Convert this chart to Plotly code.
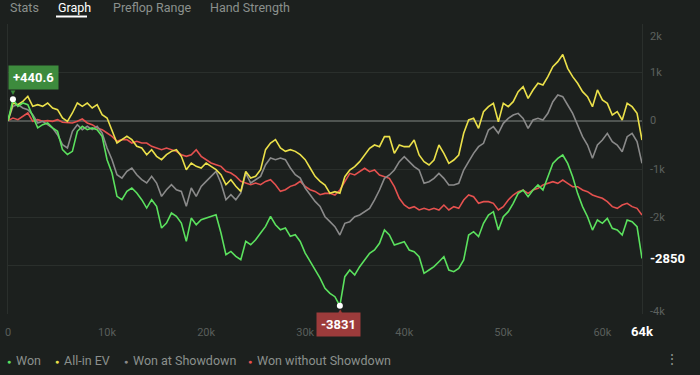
import plotly.graph_objects as go

# ---------------- data ----------------
STEP = 500  # hands between samples
won = [0, 440.6, 297, 366, 331, 100, -150, -83, -48, -150, -220, -600, -700, -635, -220, -117, -186, -150, -186, -324,
       -807, -1083, -1566, -1635, -1463, -1393, -1497, -1635, -1808, -1635, -1773, -2222, -2118,
       -1911, -1980, -2118, -2498, -2015, -2153, -2049, -2015, -1980, -1946, -2325, -2774, -2705, -2808, -2877,
       -2498, -2567, -2463, -2325, -2187, -1980, -2153, -2256, -2222, -2394, -2360, -2498, -2739, -2912, -3084, -3257,
       -3469, -3573, -3642, -3831, -3228, -3090, -3193, -3021, -2883, -2745, -2676, -2538, -2263, -2366, -2573,
       -2538, -2504, -2676, -2711, -2814, -3159, -3090, -3021, -2918, -2814, -3090, -3124, -3056, -2883, -2366,
       -2297, -2400, -2124,
       -1952, -1883, -2263, -1987, -1883, -1710, -1504, -1435, -1573, -1435, -1331, -1435, -1159, -883, -779,
       -710, -883, -1159, -1504, -1779, -1987, -2263, -2055, -2124, -2021, -2228, -2263, -2366, -2055, -2090,
       -2193, -2850]
allin_ev = [0, 366, 331, 400, 504, 297, 331, 297, 366, 262, 228, 55, -14, 159, 366, 297, 366, 262, 331, 124,
            55, -221, -462, -393, -324, -393, -531, -566, -704, -600, -738, -807, -704,
            -635, -600, -738, -1014, -876, -945, -980, -876, -945, -1014, -1118, -1325, -1221, -1359, -1463,
            -1049, -1187, -1152, -1014, -600, -462, -393, -566, -635, -600, -635, -704, -807, -980, -1152, -1256,
            -1331, -1504, -1469, -1500, -1159, -1021, -952, -848, -710, -572, -503, -538, -331, -331, -676,
            -503, -538, -538, -400, -710, -848, -917, -814, -503, -676, -883, -814, -710, -262, 14, 48, -159, 186,
            290, 359, -21, 359, 290, 393, 600, 704, 462, 635, 773, 738, 911, 1118, 1221,
            1370, 1083, 911, 773, 600, 497, 290, 635, 428, 359, 117, 186, 14, 359, 290, 152, -400]
showdown = [0, 297, 331, 262, 228, 124, -48, -14, -83, -152, -290, -497, -566, -221, -83, -186, -117, -186, -117, -255,
            -566, -807, -1118, -1187, -1049, -980, -1118, -1221, -1290, -1152, -1290, -1566, -1428,
            -1325, -1428, -1463, -1773, -1393, -1566, -1359, -1256, -1152, -1049, -1290, -1635, -1532, -1635, -1497,
            -1083, -1290, -1221, -1152, -911, -773, -807, -773, -807, -980, -1118, -1187, -1393, -1532, -1670, -1773,
            -1987, -2090, -2193, -2366, -2124, -2090, -1987, -1952, -1883, -1814, -1641, -1435, -1193, -1124, -1021,
            -848, -745, -848, -952, -1021, -1297, -1262, -1193, -1090, -1193, -1331, -1331, -1297, -1021, -848,
            -676, -538, -469,
            -193, -124, -262, -55, 48, 117, 152, 48, -159, 14, 48, 14, 152, 393, 531,
            497, 324, 152, -90, -331, -503, -779, -503, -400, -262, -434, -503, -641, -331, -262, -434, -883]
no_showdown = [0, 55, 21, 90, 159, -14, 21, -14, 0, -14, 21, -34, -48, -48, -14, 34, -48, -83, -152, -186,
               -255, -324, -428, -393, -393, -462, -428, -462, -462, -531, -566, -600, -566,
               -600, -635, -704, -738, -704, -600, -738, -807, -876, -911, -945, -1049, -1083, -1152, -1256,
               -1290, -1325, -1290, -1325, -1256, -1221, -1325, -1463, -1428, -1359, -1325, -1256, -1359, -1428,
               -1463, -1532,
               -1504, -1504, -1538, -1435, -1262, -1090, -1124, -1055, -986, -1055, -1021, -1124, -1159, -1193,
               -1366, -1607, -1745, -1814, -1779, -1848, -1814, -1848, -1814, -1848, -1745, -1848, -1779, -1814,
               -1641, -1538, -1573, -1710, -1676,
               -1676, -1710, -1848, -1779, -1641, -1538, -1469, -1435, -1504, -1435, -1400, -1331, -1297, -1262,
               -1297, -1228, -1297, -1366, -1366, -1435, -1469, -1538, -1573, -1607, -1676, -1779, -1814, -1745,
               -1710, -1779, -1814, -1952]
hands = [i * STEP for i in range(len(won))]

series_names = ["Won", "All-in EV", "Won at Showdown", "Won without Showdown"]
x_tickvals = [0, 10000, 20000, 30000, 40000, 50000, 60000, 64000]
x_ticktext = ["0", "10k", "20k", "30k", "40k", "50k", "60k",
              "<span style='color:#ffffff;font-size:13px'><b>64k</b></span>"]
y_tickvals = [2000, 1000, 0, -1000, -2000, -3000, -4000]
y_ticklabels = {2000: "2k", 1000: "1k", 0: "0", -1000: "-1k", -2000: "-2k", -4000: "-4k"}
tabs = ["Stats", "Graph", "Preflop Range", "Hand Strength"]

# ---------------- style ----------------
BG = "#1c201e"
COLORS = {"Won": "#5be15e", "All-in EV": "#ebe04a", "Won at Showdown": "#8a8a8a",
          "Won without Showdown": "#e5514f"}
UI_FONT = "Roboto"
W, H = 700, 375
L, R, T, B = 8, 58, 24, 61
PW, PH = W - L - R, H - T - B


def pxx(px):
    return (px - L) / PW


def pxy(py):
    return (H - B - py) / PH


fig = go.Figure()
data = {"Won": won, "All-in EV": allin_ev, "Won at Showdown": showdown, "Won without Showdown": no_showdown}
for name in ["Won without Showdown", "Won at Showdown", "All-in EV", "Won"]:
    fig.add_trace(go.Scatter(x=hands, y=data[name], mode="lines", name=name,
                             line=dict(color=COLORS[name], width=1.6), showlegend=False,
                             hoverinfo="skip"))

# max / min points of Won
imax = max(range(len(won)), key=lambda i: won[i])
imin = min(range(len(won)), key=lambda i: won[i])
fig.add_trace(go.Scatter(x=[hands[imax], hands[imin]], y=[won[imax], won[imin]], mode="markers",
                         marker=dict(color="white", size=6), showlegend=False, hoverinfo="skip"))

ann = []
# max callout
ann.append(dict(x=hands[imax], y=won[imax], xref="x", yref="y", text="<b>+%s</b>" % won[imax],
                showarrow=False, xanchor="left", yanchor="middle", xshift=-5, yshift=22,
                bgcolor="#3d8b3d", borderpad=4, font=dict(color="white", size=13, family=UI_FONT)))
ann.append(dict(x=hands[imax], y=won[imax], xref="x", yref="y", text="▼", showarrow=False,
                xanchor="center", yanchor="middle", yshift=8, font=dict(color="#3d8b3d", size=8)))
# min callout
ann.append(dict(x=hands[imin], y=won[imin], xref="x", yref="y", text="<b>%d</b>" % won[imin],
                showarrow=False, xanchor="center", yanchor="middle", xshift=-1, yshift=-19,
                bgcolor="#9c3b3b", borderpad=4, font=dict(color="white", size=13, family=UI_FONT)))
ann.append(dict(x=hands[imin], y=won[imin], xref="x", yref="y", text="▲", showarrow=False,
                xanchor="center", yanchor="middle", yshift=-5, font=dict(color="#9c3b3b", size=8)))
# last value label
ann.append(dict(x=1, y=won[-1], xref="paper", yref="y", text="<b>%d</b>" % won[-1], showarrow=False,
                xanchor="left", yanchor="middle", xshift=6, font=dict(color="white", size=13, family=UI_FONT)))

# y tick labels
for v, t in y_ticklabels.items():
    shift = -12 if v == 2000 else (3 if v == -4000 else 0)
    ann.append(dict(x=1, y=v, xref="paper", yref="y", text=t, showarrow=False, xanchor="left",
                    yanchor="middle", xshift=6, yshift=shift,
                    font=dict(color="#5c615e", size=11, family=UI_FONT)))

# tabs
tab_x = [8, 56, 111, 208]
for tx, t in zip(tab_x, tabs):
    ann.append(dict(x=pxx(tx), y=pxy(7), xref="paper", yref="paper", text=t, showarrow=False,
                    xanchor="left", yanchor="middle",
                    font=dict(color="#ffffff" if t == "Graph" else "#8b908d", size=12.5, family=UI_FONT)))

# legend
leg_x = [9, 57, 126, 250]
for lx, name in zip(leg_x, series_names):
    ann.append(dict(x=pxx(lx), y=pxy(361), xref="paper", yref="paper", text="●", showarrow=False,
                    xanchor="center", yanchor="middle", font=dict(color=COLORS[name], size=7)))
    ann.append(dict(x=pxx(lx + 5), y=pxy(360), xref="paper", yref="paper", text=name, showarrow=False,
                    xanchor="left", yanchor="middle", font=dict(color="#8b908d", size=12.5, family=UI_FONT)))
ann.append(dict(x=pxx(672), y=pxy(358), xref="paper", yref="paper", text="⋮", showarrow=False,
                xanchor="center", yanchor="middle", font=dict(color="#8b908d", size=14)))

shapes = [dict(type="line", xref="paper", yref="paper", x0=pxx(56), x1=pxx(87), y0=pxy(16.5), y1=pxy(16.5),
               line=dict(color="white", width=2))]

fig.update_layout(
    width=W, height=H, paper_bgcolor=BG, plot_bgcolor=BG,
    margin=dict(l=L, r=R, t=T, b=B, autoexpand=False),
    annotations=ann, shapes=shapes, showlegend=False,
    xaxis=dict(range=[0, 64000], showgrid=False, zeroline=False, tickvals=x_tickvals, ticktext=x_ticktext,
               tickfont=dict(color="#595e5b", size=11, family=UI_FONT), ticks="outside", ticklen=8,
               tickcolor="rgba(0,0,0,0)", showline=False, fixedrange=True),
    yaxis=dict(range=[-4000, 2000], side="right", tickvals=y_tickvals, showticklabels=False,
               gridcolor="#2a2f2c", gridwidth=1, zeroline=True, zerolinecolor="#4f5451", zerolinewidth=1.5,
               showline=True, mirror=True, linecolor="#2a2f2c", fixedrange=True),
)

fig.write_html("out.html", config={"displayModeBar": False},
               post_script="document.body.style.margin='0px';document.body.style.background='%s';" % BG)
